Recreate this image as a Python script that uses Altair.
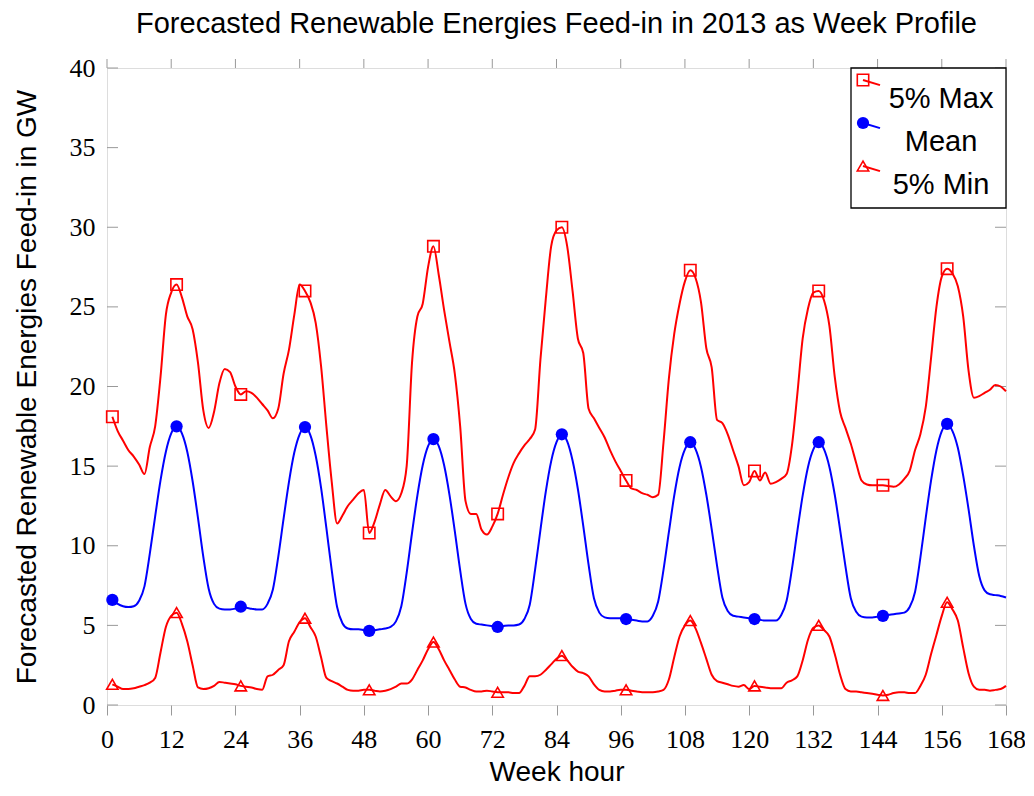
import altair as alt
import pandas as pd

hours = list(range(1, 169))

max_vals = [
    18.1, 17.2, 16.6, 16.0, 15.6, 15.1, 14.5, 16.2, 17.5, 20.6, 24.5, 25.9, 26.4, 25.6, 24.4, 23.6, 21.5, 18.5, 17.4, 18.4, 20.2, 21.1, 20.9, 20.0,
    19.5, 19.7, 19.6, 19.3, 18.9, 18.5, 18.0, 18.6, 20.8, 22.3, 24.5, 26.4, 26.0, 25.3, 24.0, 21.3, 17.5, 14.0, 11.4, 11.9, 12.5, 12.9, 13.3, 13.5,
    10.8, 11.5, 12.6, 13.5, 13.1, 12.8, 13.3, 15.0, 21.5, 24.4, 25.2, 27.5, 28.8, 27.0, 24.8, 22.8, 20.8, 17.5, 12.8, 12.0, 12.0, 11.0, 10.7, 11.2,
    12.0, 13.2, 14.3, 15.2, 15.8, 16.3, 16.7, 17.3, 21.7, 25.5, 28.8, 29.8, 30.0, 28.8, 26.0, 23.0, 22.1, 18.6, 18.0, 17.4, 16.8, 16.0, 15.3, 14.7,
    14.1, 13.6, 13.5, 13.3, 13.2, 13.05, 13.2, 16.5, 20.5, 23.3, 25.2, 26.6, 27.3, 26.8, 25.3, 22.4, 21.2, 17.9, 17.7, 17.0, 16.0, 15.0, 13.8, 14.0,
    14.7, 14.1, 14.6, 13.9, 14.0, 14.2, 14.5, 16.3, 19.5, 23.0, 24.9, 25.9, 26.0, 25.4, 23.8, 20.6, 18.4, 17.4, 16.4, 15.2, 14.1, 13.85, 13.8, 13.8,
    13.8, 13.75, 13.7, 13.85, 14.2, 14.7, 16.0, 17.0, 18.7, 21.8, 25.0, 26.9, 27.4, 27.1, 26.3, 24.4, 21.0, 19.3, 19.4, 19.6, 19.8, 20.1, 20.0, 19.7,
]

mean_vals = [
    6.6, 6.35, 6.2, 6.15, 6.2, 6.55, 7.45, 9.5, 11.85, 14.1, 15.9, 17.05, 17.5, 17.05, 15.9, 14.05, 11.75, 9.3, 7.3, 6.35, 6.05, 6.0, 6.0, 6.05,
    6.17, 6.1, 6.05, 6.0, 6.0, 6.35, 7.25, 9.3, 11.7, 14.0, 15.85, 17.0, 17.45, 16.95, 15.65, 13.65, 11.1, 8.45, 6.15, 5.13, 4.8, 4.75, 4.75, 4.7,
    4.65, 4.7, 4.75, 4.8, 4.9, 5.25, 6.2, 8.3, 10.8, 13.15, 15.05, 16.25, 16.7, 16.25, 15.05, 13.2, 10.9, 8.45, 6.35, 5.4, 5.1, 5.05, 5.0, 4.95,
    4.9, 4.95, 5.0, 5.0, 5.05, 5.4, 6.3, 8.5, 11.0, 13.4, 15.3, 16.5, 17.0, 16.55, 15.35, 13.55, 11.25, 8.8, 6.7, 5.8, 5.5, 5.45, 5.45, 5.45,
    5.4, 5.35, 5.3, 5.25, 5.25, 5.6, 6.5, 8.5, 10.85, 13.15, 14.95, 16.05, 16.5, 16.05, 14.95, 13.2, 11.05, 8.75, 6.75, 5.9, 5.6, 5.55, 5.5, 5.45,
    5.4, 5.35, 5.3, 5.3, 5.3, 5.65, 6.55, 8.55, 10.9, 13.15, 14.95, 16.05, 16.5, 16.05, 14.95, 13.2, 11.0, 8.7, 6.7, 5.85, 5.55, 5.5, 5.5, 5.55,
    5.6, 5.65, 5.7, 5.75, 5.8, 6.15, 7.1, 9.25, 11.75, 14.1, 16.0, 17.2, 17.65, 17.2, 16.15, 14.4, 12.3, 10.0, 8.1, 7.2, 6.95, 6.9, 6.85, 6.75,
]

min_vals = [
    1.3, 1.15, 1.0, 1.0, 1.05, 1.15, 1.25, 1.4, 1.7, 3.3, 4.9, 5.6, 5.8, 5.1, 4.0, 2.5, 1.1, 1.0, 1.05, 1.2, 1.45, 1.4, 1.35, 1.3,
    1.2, 1.15, 1.1, 1.0, 0.95, 1.8, 1.9, 2.2, 2.5, 4.0, 4.6, 5.2, 5.45, 4.9, 4.3, 3.0, 1.7, 1.5, 1.35, 1.15, 0.95, 0.9, 0.9, 0.95,
    0.95, 0.9, 0.85, 0.9, 1.0, 1.15, 1.35, 1.35, 1.6, 2.2, 2.8, 3.5, 3.95, 3.5, 2.8, 2.2, 1.6, 1.15, 1.1, 0.95, 0.85, 0.85, 0.9, 0.85,
    0.8, 0.8, 0.8, 0.75, 0.75, 1.2, 1.8, 1.8, 1.9, 2.2, 2.55, 2.9, 3.1, 2.8, 2.4, 2.1, 2.0, 1.8, 1.3, 0.95, 0.85, 0.85, 0.9, 0.95,
    0.95, 0.9, 0.85, 0.8, 0.8, 0.8, 0.85, 0.95, 1.6, 3.0, 4.3, 5.0, 5.3, 4.8, 3.9, 2.9, 1.9, 1.5, 1.4, 1.3, 1.2, 1.15, 1.25, 1.0,
    1.2, 1.15, 1.1, 1.05, 1.05, 1.05, 1.4, 1.55, 1.8, 2.8, 4.1, 4.85, 5.0, 4.7, 4.3, 3.2, 1.9, 1.0, 0.85, 0.85, 0.8, 0.75, 0.7, 0.65,
    0.6, 0.65, 0.75, 0.8, 0.8, 0.75, 0.75, 1.2, 1.9, 3.2, 4.4, 5.6, 6.45, 6.0, 5.3, 3.6, 2.0, 1.15, 0.95, 0.95, 0.9, 0.95, 1.0, 1.2,
]

series_names = ["5% Max", "Mean", "5% Min"]
series_colors = ["#ff0000", "#0000ff", "#ff0000"]
series_shapes = ["square", "circle", "triangle-up"]
x_ticks = list(range(0, 169, 12))
y_ticks = list(range(0, 41, 5))

rows = []
for name, vals in zip(series_names, [max_vals, mean_vals, min_vals]):
    for h, v in zip(hours, vals):
        rows.append({"hour": h, "value": v, "series": name,
                     "marker": (h - 1) % 12 == 0})
df = pd.DataFrame(rows)

SANS = "Liberation Sans"
SERIF = "Liberation Serif"
W, H = 899, 637

x_enc = alt.X("hour:Q", scale=alt.Scale(domain=[0, 168], nice=False, zero=False),
              axis=alt.Axis(values=x_ticks, title="Week hour", grid=False, domain=False,
                            ticks=True, tickSize=10, tickColor="#999999", tickWidth=1,
                            labelFont=SERIF, labelFontSize=26, labelColor="black",
                            labelPadding=11, labelFlush=False,
                            titleFont=SANS, titleFontSize=28, titleFontWeight="normal",
                            titleColor="black", titlePadding=6))
y_enc = alt.Y("value:Q", scale=alt.Scale(domain=[0, 40], nice=False),
              axis=alt.Axis(values=y_ticks, title="Forecasted Renewable Energies Feed-in in GW",
                            grid=False, domain=False, ticks=False,
                            labelFont=SERIF, labelFontSize=26, labelColor="black",
                            labelPadding=12, labelFlush=False,
                            titleFont=SANS, titleFontSize=28, titleFontWeight="normal",
                            titleColor="black", titlePadding=28))
color_enc = alt.Color("series:N", scale=alt.Scale(domain=series_names, range=series_colors), legend=None)
shape_enc = alt.Shape("series:N", scale=alt.Scale(domain=series_names, range=series_shapes), legend=None)

base = alt.Chart(df)
lines = base.mark_line(interpolate="monotone", strokeWidth=2).encode(
    x=x_enc, y=y_enc, color=color_enc, detail="series:N")
hollow = base.transform_filter("datum.marker && datum.series != 'Mean'").mark_point(
    filled=False, size=130, strokeWidth=1.6, opacity=1).encode(
    x="hour:Q", y="value:Q", color=color_enc, shape=shape_enc)
filled = base.transform_filter("datum.marker && datum.series == 'Mean'").mark_point(
    filled=True, size=150, opacity=1).encode(
    x="hour:Q", y="value:Q", color=color_enc, shape=shape_enc)

ytick_df = pd.DataFrame({"value": y_ticks})
xtick_df = pd.DataFrame({"hour": x_ticks})
ytick_left = alt.Chart(ytick_df).mark_rule(color="#999999", strokeWidth=1).encode(
    y="value:Q", x=alt.value(0), x2=alt.value(11))
ytick_right = alt.Chart(ytick_df).mark_rule(color="#999999", strokeWidth=1).encode(
    y="value:Q", x=alt.value(W - 11), x2=alt.value(W))
xtick_top = alt.Chart(xtick_df).mark_rule(color="#999999", strokeWidth=1).encode(
    x="hour:Q", y=alt.value(-9), y2=alt.value(0))

main = alt.layer(ytick_left, ytick_right, xtick_top, lines, hollow, filled)

# legend (drawn in pixel space of its own scale)
leg_df = pd.DataFrame({"series": series_names, "rank": [0, 1, 2]})
leg_y = alt.Y("rank:Q", scale=alt.Scale(domain=[0, 2], range=[12, 98]), axis=None)
box = alt.Chart(pd.DataFrame({"a": [0]})).mark_rect(
    fill="white", stroke="black", strokeWidth=1.3).encode(
    x=alt.value(744), x2=alt.value(W), y=alt.value(0), y2=alt.value(140))
leg_tail = alt.Chart(leg_df).mark_point(shape="M0,0L1,0.3", size=1156, filled=False,
                                        strokeWidth=2, opacity=1).encode(
    x=alt.value(756), y=leg_y, color=color_enc)
leg_hollow = alt.Chart(leg_df).transform_filter("datum.series != 'Mean'").mark_point(
    filled=False, size=130, strokeWidth=1.6, opacity=1).encode(
    x=alt.value(756), y=leg_y, color=color_enc, shape=shape_enc)
leg_filled = alt.Chart(leg_df).transform_filter("datum.series == 'Mean'").mark_point(
    filled=True, size=150, opacity=1).encode(
    x=alt.value(756), y=leg_y, color=color_enc, shape=shape_enc)
leg_text = alt.Chart(leg_df).mark_text(font=SANS, fontSize=29, align="center",
                                       baseline="middle", dy=19, color="black").encode(
    x=alt.value(834), y=leg_y, text="series:N")
legend = alt.layer(box, leg_tail, leg_hollow, leg_filled, leg_text)

chart = alt.layer(main, legend).resolve_scale(y="independent").properties(
    width=W, height=H,
    title=alt.TitleParams("Forecasted Renewable Energies Feed-in in 2013 as Week Profile",
                          font=SANS, fontSize=29, fontWeight="normal", color="black",
                          anchor="middle", offset=16),
    autosize=alt.AutoSizeParams(type="none"),
    padding={"left": 99, "top": 60, "right": 19, "bottom": 90},
).configure_view(stroke="#333333", strokeWidth=1.5).configure(background="white")

chart.save("out.html", embed_options={"renderer": "svg", "actions": False})
